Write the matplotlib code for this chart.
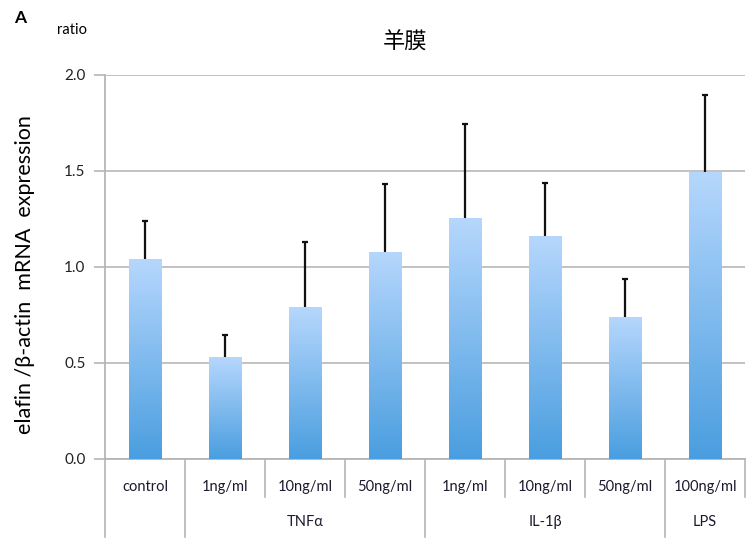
import numpy as np
import matplotlib.pyplot as plt
from matplotlib.colors import LinearSegmentedColormap

plt.rcParams['font.family'] = ['Lato', 'DejaVu Sans']

# elafin expression per treatment (mean and upper SD)
labels = ['control', '1ng/ml', '10ng/ml', '50ng/ml', '1ng/ml', '10ng/ml', '50ng/ml', '100ng/ml']
means = [1.04, 0.53, 0.79, 1.08, 1.255, 1.16, 0.74, 1.495]
errs = [0.20, 0.115, 0.34, 0.35, 0.49, 0.28, 0.20, 0.40]
groups = ['TNFα', 'IL-1β', 'LPS']
group_spans = [(1, 3), (4, 6), (7, 7)]
yticks = [0.0, 0.5, 1.0, 1.5, 2.0]

fig = plt.figure(figsize=(7.48, 5.41), dpi=100)
ax = fig.add_axes([0.1404, 0.1516, 0.8556, 0.7098])

x = np.arange(len(means))
ax.set_xlim(-0.5, len(means) - 0.5)
ax.set_ylim(0, 2.0)

grad = LinearSegmentedColormap.from_list('bluegrad', ['#4a9edf', '#b6d7fd'])
ramp = np.linspace(0, 1, 256).reshape(-1, 1)

bars = ax.bar(x, means, width=0.41, color='none', edgecolor='none', zorder=3)
for b in bars:
    x0, y0 = b.get_x(), b.get_y()
    im = ax.imshow(ramp, cmap=grad, aspect='auto', origin='lower',
                   extent=[x0, x0 + b.get_width(), y0, y0 + b.get_height()], zorder=3)
    im.set_clip_path(b)

eb = ax.errorbar(x, means, yerr=[np.zeros(len(errs)), errs], fmt='none', ecolor='#111111',
                 elinewidth=1.6, capsize=2.5, capthick=1.6, zorder=4)
# only the upper whisker gets a cap
eb.lines[1][0].set_visible(False)

ax.set_yticks(yticks)
ax.set_yticklabels(['%.1f' % v for v in yticks], fontsize=11, color='#222222')
ax.yaxis.grid(True, color='#bdbdbd', linewidth=1.3, zorder=0)
ax.set_axisbelow(True)
ax.tick_params(axis='y', length=8, width=1.2, color='#b5b5b5', pad=6)
ax.set_xticks([])
for s in ['top', 'right']:
    ax.spines[s].set_visible(False)
ax.spines['left'].set_color('#b5b5b5')
ax.spines['left'].set_linewidth(1.3)
ax.spines['bottom'].set_color('#b5b5b5')
ax.spines['bottom'].set_linewidth(1.3)

# category table under the axis
tr = ax.get_xaxis_transform()
full_edges = {-0.5, 0.5, 3.5, 6.5}
for e in np.arange(-0.5, len(means)):
    bottom = -0.204 if e in full_edges else -0.099
    ax.plot([e, e], [0, bottom], transform=tr, color='#b5b5b5', lw=1.2, clip_on=False)
for i, lab in enumerate(labels):
    ax.text(i, -0.073, lab, transform=tr, ha='center', va='center', fontsize=10.5, color='#1a1a2e')
for g, (a, b) in zip(groups, group_spans):
    ax.text((a + b) / 2, -0.165, g, transform=tr, ha='center', va='center', fontsize=10.5, color='#1a1a2e')

ax.set_ylabel('elafin /β-actin  mRNA  expression', fontsize=15.5)
ax.yaxis.set_label_coords(-0.11, 0.48)

fig.text(405 / 748, 1 - 42 / 541, '羊膜', ha='center', va='center', fontsize=16,
         family=['Noto Sans CJK JP', 'DejaVu Sans'])
fig.text(14 / 748, 1 - 18 / 541, 'A', ha='left', va='center', fontsize=12.5, fontweight='bold')
fig.text(57 / 748, 1 - 30 / 541, 'ratio', ha='left', va='center', fontsize=10.5)

fig.savefig('out.png', dpi=100)
